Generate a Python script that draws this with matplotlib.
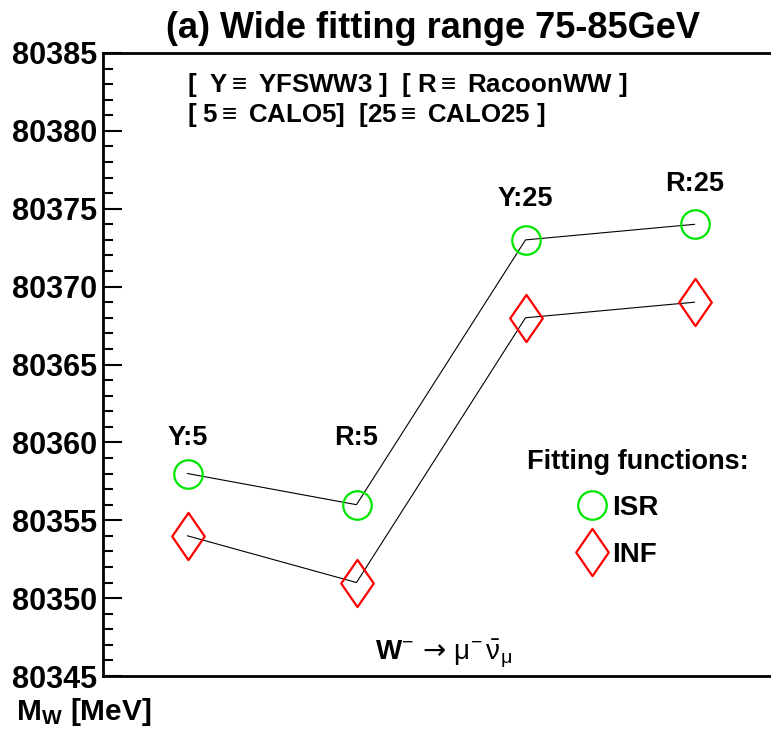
import matplotlib.pyplot as plt
from matplotlib.lines import Line2D
from matplotlib.path import Path

# ===== DATA =====
configs = ["Y:5", "R:5", "Y:25", "R:25"]
isr_mass = [80358, 80356, 80373, 80374]
inf_mass = [80354, 80351, 80368, 80369]

# label heights for the configuration tags (MeV)
tag_y = [80360.3, 80360.3, 80375.6, 80376.6]

plt.rcParams['font.family'] = ['Liberation Sans', 'DejaVu Sans']
plt.rcParams['mathtext.fontset'] = 'custom'
plt.rcParams['mathtext.rm'] = 'Liberation Sans'
plt.rcParams['mathtext.bf'] = 'Liberation Sans:bold'
plt.rcParams['mathtext.it'] = 'Liberation Sans:italic'
plt.rcParams['mathtext.sf'] = 'DejaVu Sans'

GREEN = '#00e600'
RED = '#ff0000'

# narrow diamond like ROOT marker 27
diamond = Path([(0, 1), (0.69, 0), (0, -1), (-0.69, 0), (0, 1)],
               [Path.MOVETO, Path.LINETO, Path.LINETO, Path.LINETO, Path.CLOSEPOLY])

fig = plt.figure(figsize=(7.71, 7.29), dpi=100)
ax = fig.add_axes([103 / 771, 53 / 729, 676 / 771, 623 / 729])

x = list(range(1, len(configs) + 1))

# ===== LINES + MARKERS =====
ax.plot(x, isr_mass, color='black', lw=0.8, zorder=2)
ax.plot(x, inf_mass, color='black', lw=0.8, zorder=2)
ax.plot(x, isr_mass, ls='none', marker='o', ms=20.5, mfc='none',
        mec=GREEN, mew=1.6, zorder=3)
ax.plot(x, inf_mass, ls='none', marker=diamond, ms=34, mfc='none',
        mec=RED, mew=1.6, zorder=3)

for xi, name, ty in zip(x, configs, tag_y):
    ax.text(xi, ty, name, ha='center', va='center', fontsize=19.5,
            fontweight='bold')

# ===== AXES =====
ax.set_xlim(0.5, 4.5)
ax.set_ylim(80345, 80385)
ax.set_yticks(range(80345, 80386, 5))
ax.set_yticks(range(80345, 80386, 1), minor=True)
ax.set_xticks([])
ax.tick_params(axis='y', which='major', direction='in', length=13.5,
               width=1.5, labelsize=22, pad=4)
ax.tick_params(axis='y', which='minor', direction='in', length=7,
               width=1.5)
for lab in ax.get_yticklabels():
    lab.set_fontweight('bold')
for side in ['left', 'top', 'bottom']:
    ax.spines[side].set_linewidth(2)
ax.spines['right'].set_visible(False)

# ===== TEXT =====
fig.text(433 / 771, 1 - 29 / 729, "(a) Wide fitting range 75-85GeV",
         ha='center', va='center', fontsize=26, fontweight='bold')

ax.text(0.124, 0.949, "[  Y$\\equiv$ YFSWW3 ]  [ R$\\equiv$ RacoonWW ]",
        transform=ax.transAxes, ha='left', va='center', fontsize=18.6,
        fontweight='bold')
ax.text(0.124, 0.901, "[ 5$\\equiv$ CALO5]  [25$\\equiv$ CALO25 ]",
        transform=ax.transAxes, ha='left', va='center', fontsize=18.6,
        fontweight='bold')

ax.text(0.627, 0.344, "Fitting functions:", transform=ax.transAxes,
        ha='left', va='center', fontsize=19.5, fontweight='bold')

handles = [Line2D([], [], ls='none', marker='o', ms=20.5, mfc='none',
                  mec=GREEN, mew=1.6),
           Line2D([], [], ls='none', marker=diamond, ms=34, mfc='none',
                  mec=RED, mew=1.6)]
ax.legend(handles, ["ISR", "INF"], loc='center left',
          bbox_to_anchor=(0.662, 0.232), frameon=False,
          handlelength=1.2, handletextpad=0.12, labelspacing=0.75,
          prop={'weight': 'bold', 'size': 20})

ax.text(0.403, 0.035,
        r"$\mathbf{W}^{-}\,\mathsf{\rightarrow}\,\mathrm{\mu}^{-}\,\bar{\mathrm{\nu}}_{\mathrm{\mu}}$",
        transform=ax.transAxes, ha='left', va='center', fontsize=20)

fig.text(16 / 771, 1 - 712 / 729, r"M$_{\mathbf{W}}$ [MeV]", ha='left',
         va='center', fontsize=21.5, fontweight='bold')

fig.savefig("out.png", dpi=100)
